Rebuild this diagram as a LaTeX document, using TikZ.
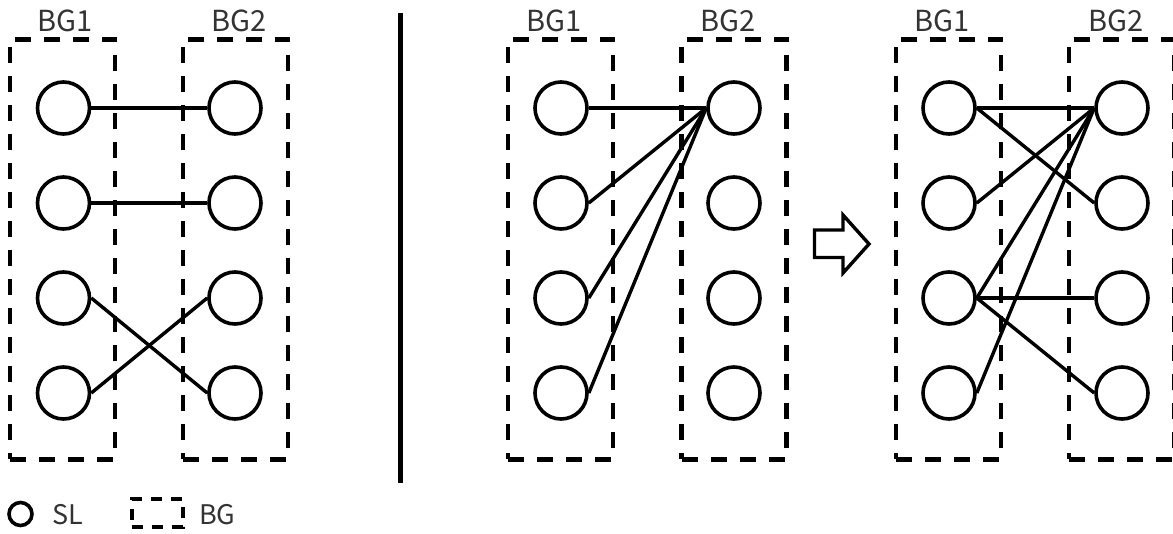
\documentclass[tikz,border=0pt]{standalone}
\usepackage{fontspec}
\newfontfamily\lblfont{Noto Sans CJK SC}
\begin{document}
\begin{tikzpicture}[x=1pt,y=-1pt,
  sl/.style={circle,draw,line width=3.6pt,minimum size=52pt,inner sep=0pt},
  bgbox/.style={draw,line width=4.2pt,dash pattern=on 16pt off 13pt,minimum width=105pt,minimum height=420pt,inner sep=0pt},
  link/.style={line width=3.4pt},
  lbl/.style={font=\lblfont\fontsize{29}{29}\selectfont,text=black!80,anchor=base,inner sep=0pt},
  leglbl/.style={font=\lblfont\fontsize{27}{27}\selectfont,text=black!80,anchor=base west,inner sep=0pt}]
\useasboundingbox (0,0) rectangle (1173,533);
% group boxes
\node[bgbox] (Lbox1) at (62.8,249.4) {};
\node[bgbox] (Lbox2) at (235.5,249.4) {};
\node[bgbox] (Mbox1) at (560.5,249.4) {};
\node[bgbox] (Mbox2) at (734,249.4) {};
\node[bgbox] (Rbox1) at (948.7,249.4) {};
\node[bgbox] (Rbox2) at (1121.8,249.4) {};
% labels
\node[lbl] (Llab1) at (65,31) {BG1};
\node[lbl] (Llab2) at (239.5,31) {BG2};
\node[lbl] (Mlab1) at (554.5,31) {BG1};
\node[lbl] (Mlab2) at (728,31) {BG2};
\node[lbl] (Rlab1) at (942.5,31) {BG1};
\node[lbl] (Rlab2) at (1116,31) {BG2};
% circles
\foreach \p/\a/\b in {L/63.5/235, M/561/734, R/949/1122}{
  \foreach \r/\y in {1/108,2/203,3/298,4/393}{
    \node[sl] (\p a\r) at (\a,\y) {};
    \node[sl] (\p b\r) at (\b,\y) {};
  }
}
% left links
\draw[link] (La1.east) -- (Lb1.west);
\draw[link] (La2.east) -- (Lb2.west);
\draw[link] (La3.east) -- (Lb4.west);
\draw[link] (La4.east) -- (Lb3.west);
% middle links
\foreach \r in {1,2,3,4}{\draw[link] (Ma\r.east) -- (Mb1.west);}
% right links
\draw[link] (Ra1.east) -- (Rb1.west);
\draw[link] (Ra1.east) -- (Rb2.west);
\draw[link] (Ra2.east) -- (Rb1.west);
\draw[link] (Ra3.east) -- (Rb1.west);
\draw[link] (Ra4.east) -- (Rb1.west);
\draw[link] (Ra3.east) -- (Rb3.west);
\draw[link] (Ra3.east) -- (Rb4.west);
% separator
\coordinate (septop) at (400.5,13);
\coordinate (sepbot) at (400.5,483);
\draw[line width=4.2pt] (septop) -- (sepbot);
% block arrow
\draw[line width=3.4pt,line join=miter] (814.5,230) -- (843,230) -- (843,215) -- (869,244) -- (843,273) -- (843,257.5) -- (814.5,257.5) -- cycle;
% legend
\node[sl,minimum size=23pt] (legsl) at (20.5,514) {};
\node[leglbl] (legsltxt) at (52,524) {SL};
\node[draw,line width=4pt,dash pattern=on 11pt off 9pt,minimum width=51pt,minimum height=28pt,inner sep=0pt] (legbg) at (157,512.5) {};
\node[leglbl] (legbgtxt) at (199,524) {BG};
\end{tikzpicture}
\end{document}
